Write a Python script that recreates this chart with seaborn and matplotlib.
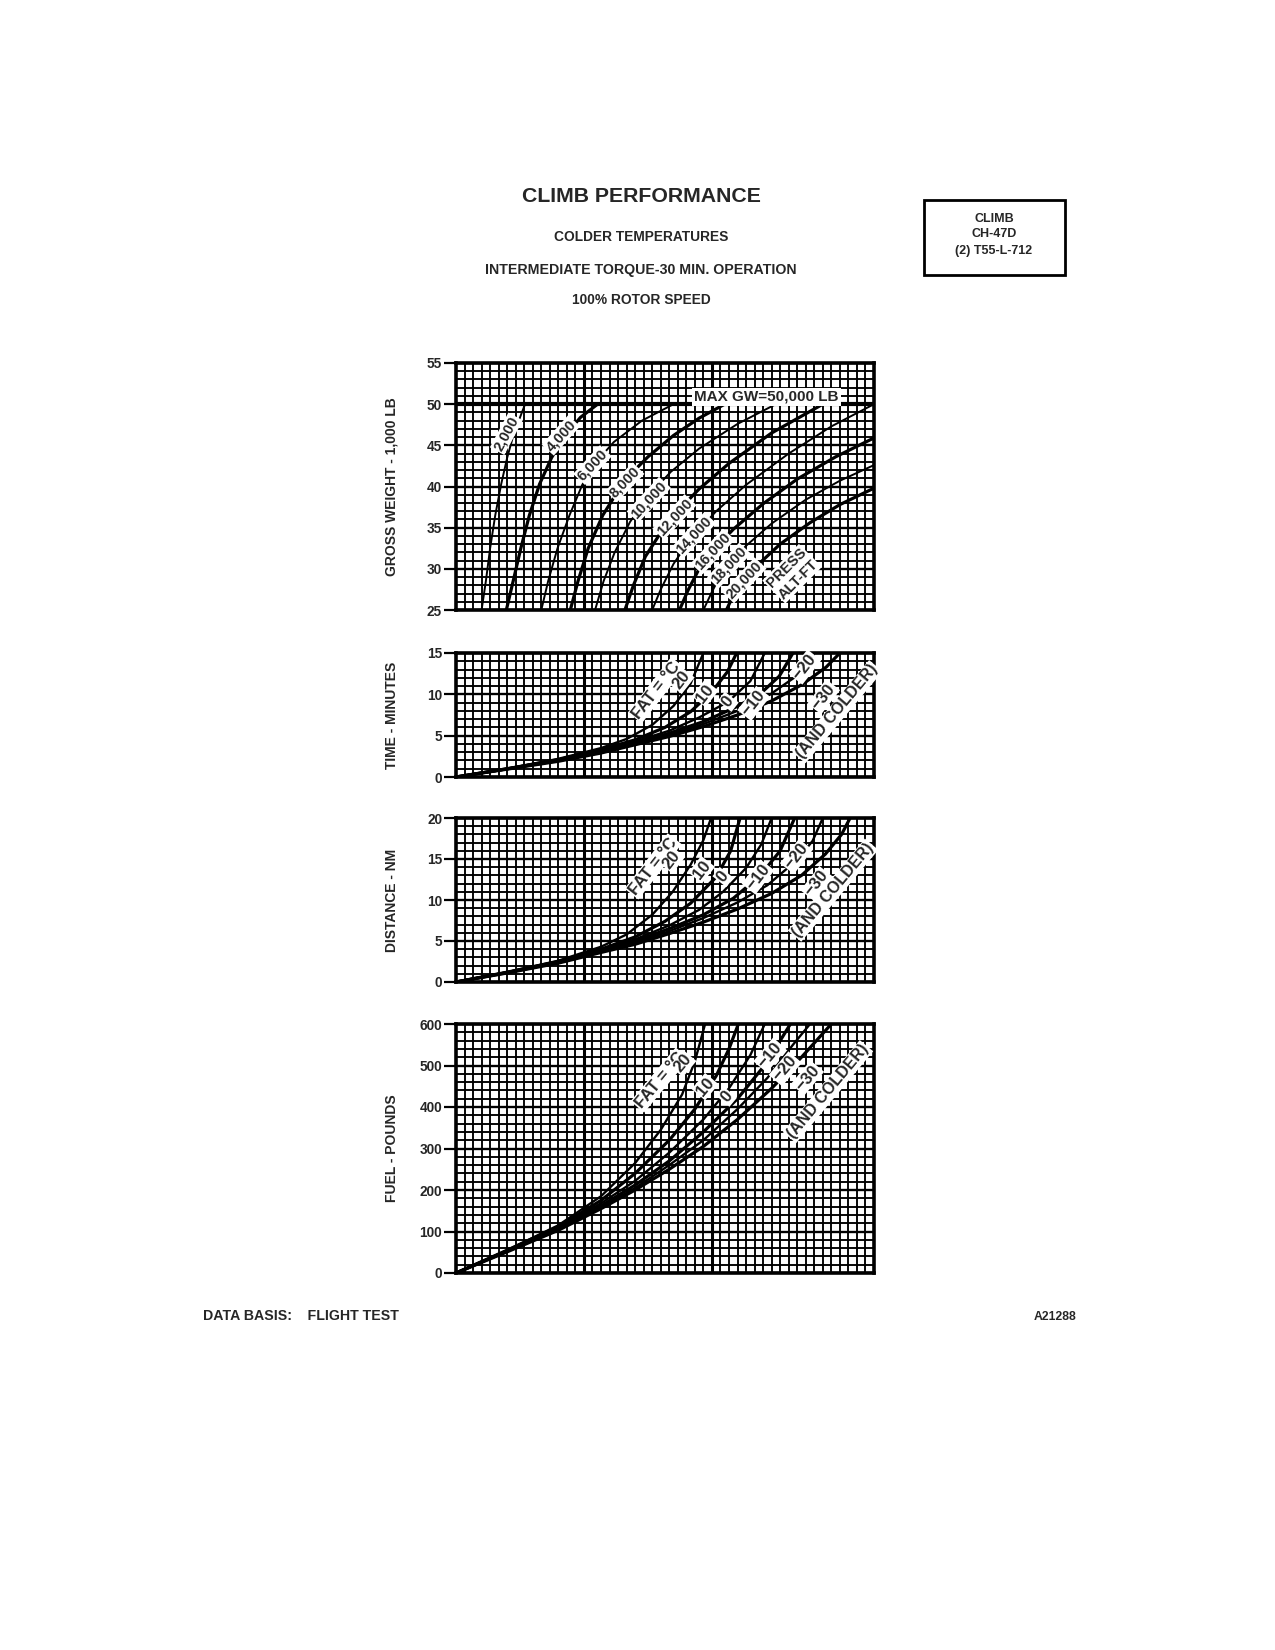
# Climb performance chart - colder temperatures (CH-47D)
import numpy as np
import matplotlib.pyplot as plt
import seaborn as sns

sns.set_theme(style='white')
plt.rcParams['font.family'] = ['Liberation Sans', 'DejaVu Sans']
plt.rcParams['font.weight'] = 'bold'

# ---- gross weight (1,000 lb) vs chart column, one curve per press. altitude
gw_2000_x = [3.0, 3.5, 4.0, 4.6, 5.3, 6.0, 6.8, 8.1]
gw_2000_y = [25, 28.5, 32.5, 36.5, 40.3, 43.5, 46.5, 50]
gw_4000_x = [5.9, 6.7, 7.6, 8.6, 9.8, 11.2, 12.8, 14.6, 16.6]
gw_4000_y = [25, 28.5, 32.5, 36.5, 40.3, 43.5, 46.2, 48.4, 50]
gw_6000_x = [10.0, 10.8, 11.9, 13.3, 14.8, 16.1, 18.5, 21.8, 25.5]
gw_6000_y = [25, 28.5, 32.5, 36.5, 40.2, 42.6, 45.4, 48.0, 50]
gw_8000_x = [13.4, 14.3, 15.5, 17.2, 19.8, 22.5, 25.5, 28.5, 31.5]
gw_8000_y = [25, 28.5, 32.5, 36.5, 40.8, 43.6, 46.2, 48.3, 50]
gw_10000_x = [16.3, 17.3, 18.6, 20.4, 22.5, 25.2, 28.5, 33.0, 37.5]
gw_10000_y = [25, 28.5, 32.0, 35.7, 38.8, 41.8, 44.6, 47.6, 50]
gw_12000_x = [19.8, 20.8, 22.2, 24.0, 25.7, 28.5, 32.0, 37.0, 43.0]
gw_12000_y = [25, 28.0, 31.5, 34.4, 36.7, 39.7, 42.8, 46.5, 50]
gw_14000_x = [23.0, 24.0, 25.5, 27.0, 28.0, 30.5, 34.0, 39.0, 44.0, 49.0]
gw_14000_y = [25, 27.5, 30.6, 32.9, 34.2, 37.0, 40.2, 44.0, 47.3, 50]
gw_16000_x = [26.2, 27.2, 28.6, 30.2, 32.5, 36.0, 40.0, 44.5, 49.0]
gw_16000_y = [25, 27.4, 30.2, 32.3, 34.8, 37.9, 40.9, 43.6, 45.9]
gw_18000_x = [29.0, 30.0, 31.0, 32.1, 34.0, 37.0, 41.0, 45.0, 49.0]
gw_18000_y = [25, 27.2, 29.2, 30.7, 32.8, 35.5, 38.4, 40.7, 42.6]
gw_20000_x = [31.7, 32.6, 33.9, 35.5, 38.0, 41.5, 45.0, 49.0]
gw_20000_y = [25, 27.0, 28.8, 30.6, 33.0, 35.6, 37.8, 39.8]
max_gw = 50

# ---- time (minutes), one curve per FAT
time_p20_x = [0, 6, 12, 17, 20, 23, 25.5, 27.5, 29.0]
time_p20_y = [0, 1.0, 2.2, 3.5, 4.6, 6.3, 8.6, 11.3, 15]
time_p10_x = [0, 6, 12, 17, 21, 24.5, 27.5, 30.0, 31.8, 32.9]
time_p10_y = [0, 1.0, 2.1, 3.3, 4.5, 6.0, 7.9, 10.3, 12.7, 15]
time_0_x = [0, 6, 12, 17, 21, 25, 28.5, 31.9, 34.5, 36.2]
time_0_y = [0, 1.0, 2.1, 3.2, 4.3, 5.6, 7.2, 9.1, 11.6, 15]
time_m10_x = [0, 6, 12, 17, 21, 25, 29, 32.5, 35.6, 37.9, 39.5]
time_m10_y = [0, 1.0, 2.0, 3.1, 4.1, 5.3, 6.7, 8.3, 10.0, 12.2, 15]
time_m20_x = [0, 6, 12, 17, 21, 25, 29, 33, 36.7, 39.9, 41.9]
time_m20_y = [0, 0.95, 1.95, 3.0, 4.0, 5.1, 6.4, 8.0, 9.9, 12.2, 15]
time_m30_x = [0, 6, 12, 17, 21, 25, 29, 33, 37, 40.6, 43.4, 45.0]
time_m30_y = [0, 0.95, 1.9, 2.9, 3.9, 4.9, 6.1, 7.5, 9.2, 11.2, 13.3, 15]

# ---- distance (NM)
dist_p20_x = [0, 6, 12, 17, 20, 23, 25.4, 27.5, 29.0, 29.9]
dist_p20_y = [0, 1.2, 2.6, 4.3, 5.8, 8.2, 11.0, 14.3, 17.3, 20]
dist_p10_x = [0, 6, 12, 17, 21, 24.5, 27.5, 30.5, 32.2, 33.3]
dist_p10_y = [0, 1.2, 2.5, 4.0, 5.5, 7.4, 9.6, 12.8, 16.0, 20]
dist_0_x = [0, 6, 12, 17, 21, 25, 28.5, 31.3, 34.0, 35.8, 37.0]
dist_0_y = [0, 1.2, 2.5, 3.9, 5.2, 6.9, 8.8, 11.0, 13.9, 16.8, 20]
dist_m10_x = [0, 6, 12, 17, 21, 25, 29, 32.5, 35.6, 38.0, 39.7]
dist_m10_y = [0, 1.15, 2.4, 3.8, 5.0, 6.5, 8.2, 10.2, 12.9, 16.0, 20]
dist_m20_x = [0, 6, 12, 17, 21, 25, 29, 33, 36.5, 39.9, 41.8, 43.0]
dist_m20_y = [0, 1.15, 2.35, 3.7, 4.8, 6.2, 7.8, 9.7, 11.8, 14.8, 17.2, 20]
dist_m30_x = [0, 6, 12, 17, 21, 25, 29, 33, 37, 40.5, 43.3, 45.2, 46.2]
dist_m30_y = [0, 1.1, 2.3, 3.6, 4.6, 5.9, 7.3, 8.9, 10.8, 13.0, 15.6, 18.0, 20]

# ---- fuel (pounds)
fuel_p20_x = [0, 6, 12, 17, 21, 24, 26.5, 28, 29.2]
fuel_p20_y = [0, 55, 115, 185, 265, 345, 430, 510, 600]
fuel_p10_x = [0, 6, 12, 17, 21, 25, 28, 30.5, 32, 33.1]
fuel_p10_y = [0, 55, 112, 175, 240, 320, 395, 475, 540, 600]
fuel_0_x = [0, 6, 12, 17, 21, 25, 29, 32, 34.5, 36.2]
fuel_0_y = [0, 54, 110, 168, 222, 290, 370, 445, 525, 600]
fuel_m10_x = [0, 6, 12, 17, 21, 25, 29, 33, 36.4, 39.2]
fuel_m10_y = [0, 53, 107, 162, 212, 270, 340, 420, 506, 600]
fuel_m20_x = [0, 6, 12, 17, 21, 25, 29, 33, 36.5, 39.5, 41.5]
fuel_m20_y = [0, 52, 105, 158, 205, 260, 320, 395, 470, 550, 600]
fuel_m30_x = [0, 6, 12, 17, 21, 25, 29, 33, 37, 40.5, 44]
fuel_m30_y = [0, 51, 103, 155, 200, 250, 305, 370, 445, 520, 600]

alt_labels = ['2,000', '4,000', '6,000', '8,000', '10,000',
              '12,000', '14,000', '16,000', '18,000', '20,000']
fat_labels = ['20', '10', '0', '\u221210', '\u221220', '\u221230']

gw_curves = [(gw_2000_x, gw_2000_y), (gw_4000_x, gw_4000_y), (gw_6000_x, gw_6000_y),
             (gw_8000_x, gw_8000_y), (gw_10000_x, gw_10000_y), (gw_12000_x, gw_12000_y),
             (gw_14000_x, gw_14000_y), (gw_16000_x, gw_16000_y), (gw_18000_x, gw_18000_y),
             (gw_20000_x, gw_20000_y)]
time_curves = [(time_p20_x, time_p20_y), (time_p10_x, time_p10_y), (time_0_x, time_0_y),
               (time_m10_x, time_m10_y), (time_m20_x, time_m20_y), (time_m30_x, time_m30_y)]
dist_curves = [(dist_p20_x, dist_p20_y), (dist_p10_x, dist_p10_y), (dist_0_x, dist_0_y),
               (dist_m10_x, dist_m10_y), (dist_m20_x, dist_m20_y), (dist_m30_x, dist_m30_y)]
fuel_curves = [(fuel_p20_x, fuel_p20_y), (fuel_p10_x, fuel_p10_y), (fuel_0_x, fuel_0_y),
               (fuel_m10_x, fuel_m10_y), (fuel_m20_x, fuel_m20_y), (fuel_m30_x, fuel_m30_y)]

W, H = 1275, 1650
fig = plt.figure(figsize=(W / 100, H / 100), dpi=100)


def frac_axes(left, top, right, bottom):
    # pixel box -> figure fraction
    return fig.add_axes([left / W, 1 - bottom / H, (right - left) / W, (bottom - top) / H])


def setup(ax, ylo, yhi, ymaj, ymin, ylabel):
    ax.set_xlim(0, 49)
    ax.set_ylim(ylo, yhi)
    ax.set_xticks([15, 30])
    ax.set_xticks(np.arange(0, 50, 1), minor=True)
    ax.set_yticks(np.arange(ylo, yhi + ymaj / 2, ymaj))
    ax.set_yticks(np.arange(ylo, yhi + ymin / 2, ymin), minor=True)
    ax.xaxis.grid(True, which='minor', color='black', lw=1.35)
    ax.xaxis.grid(True, which='major', color='black', lw=2.2)
    ax.yaxis.grid(True, which='minor', color='black', lw=1.35)
    ax.yaxis.grid(True, which='major', color='black', lw=1.7)
    ax.set_axisbelow(True)
    ax.tick_params(axis='x', which='both', length=0, labelbottom=False)
    ax.tick_params(axis='y', which='major', direction='out', length=9, width=1.6,
                   labelsize=9.8, pad=1, color='black', left=True)
    ax.tick_params(axis='y', which='minor', length=0)
    for s in ax.spines.values():
        s.set_linewidth(2.6)
        s.set_color('black')
    pos = ax.get_position()
    fig.text(392 / W, pos.y0 + pos.height / 2, ylabel, rotation=90, ha='center',
             va='center', fontsize=10)


def draw(ax, curves, widths):
    for (cx, cy), w in zip(curves, widths):
        sns.lineplot(x=cx, y=cy, ax=ax, color='black', lw=w, estimator=None,
                     sort=False, zorder=3)


box = dict(boxstyle='square,pad=0.08', fc='white', ec='none')


def tag(ax, x, y, s, rot, size):
    ax.text(x, y, s, rotation=rot, rotation_mode='anchor', ha='center', va='center',
            fontsize=size, bbox=box, zorder=6, multialignment='center')


# ---------------- gross weight panel
ax1 = frac_axes(456, 363, 874, 610)
setup(ax1, 25, 55, 5, 1, 'GROSS WEIGHT - 1,000 LB')
draw(ax1, gw_curves, [1.4, 2.3] * 5)
ax1.axhline(max_gw, color='black', lw=3.0, zorder=3)
ax1.text(36.4, 50.9, 'MAX GW=50,000 LB', ha='center', va='center', fontsize=11,
         bbox=dict(boxstyle='square,pad=0.12', fc='white', ec='none'), zorder=6)
alt_pos = [(5.9, 46.4, 62), (12.3, 46.2, 48), (16.0, 42.6, 47), (19.8, 40.5, 46),
           (22.6, 38.4, 47), (25.6, 36.3, 47), (27.9, 34.1, 47), (30.1, 32.1, 47),
           (32.0, 30.4, 47), (33.8, 28.6, 47)]
for s, (x, y, r) in zip(alt_labels, alt_pos):
    tag(ax1, x, y, s, r, 10.5)
tag(ax1, 39.4, 29.4, 'PRESS\nALT-FT', 45, 10.5)

fat_widths = [1.7, 2.3, 1.7, 2.3, 1.7, 2.3]

# ---------------- time panel
ax2 = frac_axes(456, 653, 874, 777)
setup(ax2, 0, 15, 5, 1, 'TIME - MINUTES')
draw(ax2, time_curves, fat_widths)
time_pos = [(26.4, 11.7), (29.2, 10.1), (31.9, 9.1), (34.9, 8.9), (40.9, 13.3), (43.1, 9.7)]
tag(ax2, 23.5, 10.5, 'FAT = \u00b0C', 52, 12)
for s, (x, y) in zip(fat_labels, time_pos):
    tag(ax2, x, y, s, 52, 12)
tag(ax2, 44.7, 7.9, '(AND COLDER)', 50, 11.5)

# ---------------- distance panel
ax3 = frac_axes(456, 818, 874, 982)
setup(ax3, 0, 20, 5, 1, 'DISTANCE - NM')
draw(ax3, dist_curves, fat_widths)
dist_pos = [(25.3, 14.9), (28.8, 13.7), (31.3, 12.8), (35.4, 12.8), (39.9, 15.3), (42.3, 12.0)]
tag(ax3, 23.1, 14.1, 'FAT = \u00b0C', 52, 12)
for s, (x, y) in zip(fat_labels, dist_pos):
    tag(ax3, x, y, s, 52, 12)
tag(ax3, 44.2, 11.2, '(AND COLDER)', 50, 11.5)

# ---------------- fuel panel
ax4 = frac_axes(456, 1024, 874, 1273)
setup(ax4, 0, 600, 100, 20, 'FUEL - POUNDS')
draw(ax4, fuel_curves, fat_widths)
fuel_pos = [(26.6, 505), (29.2, 449), (31.7, 425), (36.8, 525), (38.6, 492), (41.2, 470)]
tag(ax4, 23.9, 465, 'FAT = \u00b0C', 50, 12)
for s, (x, y) in zip(fat_labels, fuel_pos):
    tag(ax4, x, y, s, 50, 12)
tag(ax4, 43.6, 437, '(AND COLDER)', 50, 11.5)

# ---------------- titles and notes
fig.text(641 / W, 1 - 196 / H, 'CLIMB PERFORMANCE', ha='center', va='center',
         fontsize=15.3)
fig.text(641 / W, 1 - 237 / H, 'COLDER TEMPERATURES', ha='center', va='center',
         fontsize=9.9)
fig.text(641 / W, 1 - 270 / H, 'INTERMEDIATE TORQUE-30 MIN. OPERATION', ha='center',
         va='center', fontsize=10.2)
fig.text(641 / W, 1 - 300 / H, '100% ROTOR SPEED', ha='center', va='center',
         fontsize=9.9)

fig.patches.append(plt.Rectangle((924 / W, 1 - 275 / H), 141 / W, 75 / H,
                                 transform=fig.transFigure, fill=False, lw=2.0,
                                 ec='black'))
for txt, yy in zip(['CLIMB', 'CH-47D', '(2) T55-L-712'], [219, 234, 251]):
    fig.text(994 / W, 1 - yy / H, txt, ha='center', va='center', fontsize=9)

fig.text(203 / W, 1 - 1316 / H, 'DATA BASIS:    FLIGHT TEST', ha='left', va='center',
         fontsize=10.2)
fig.text(1076 / W, 1 - 1317 / H, 'A21288', ha='right', va='center', fontsize=8.8)

fig.savefig('out.png', dpi=100, facecolor='white')
